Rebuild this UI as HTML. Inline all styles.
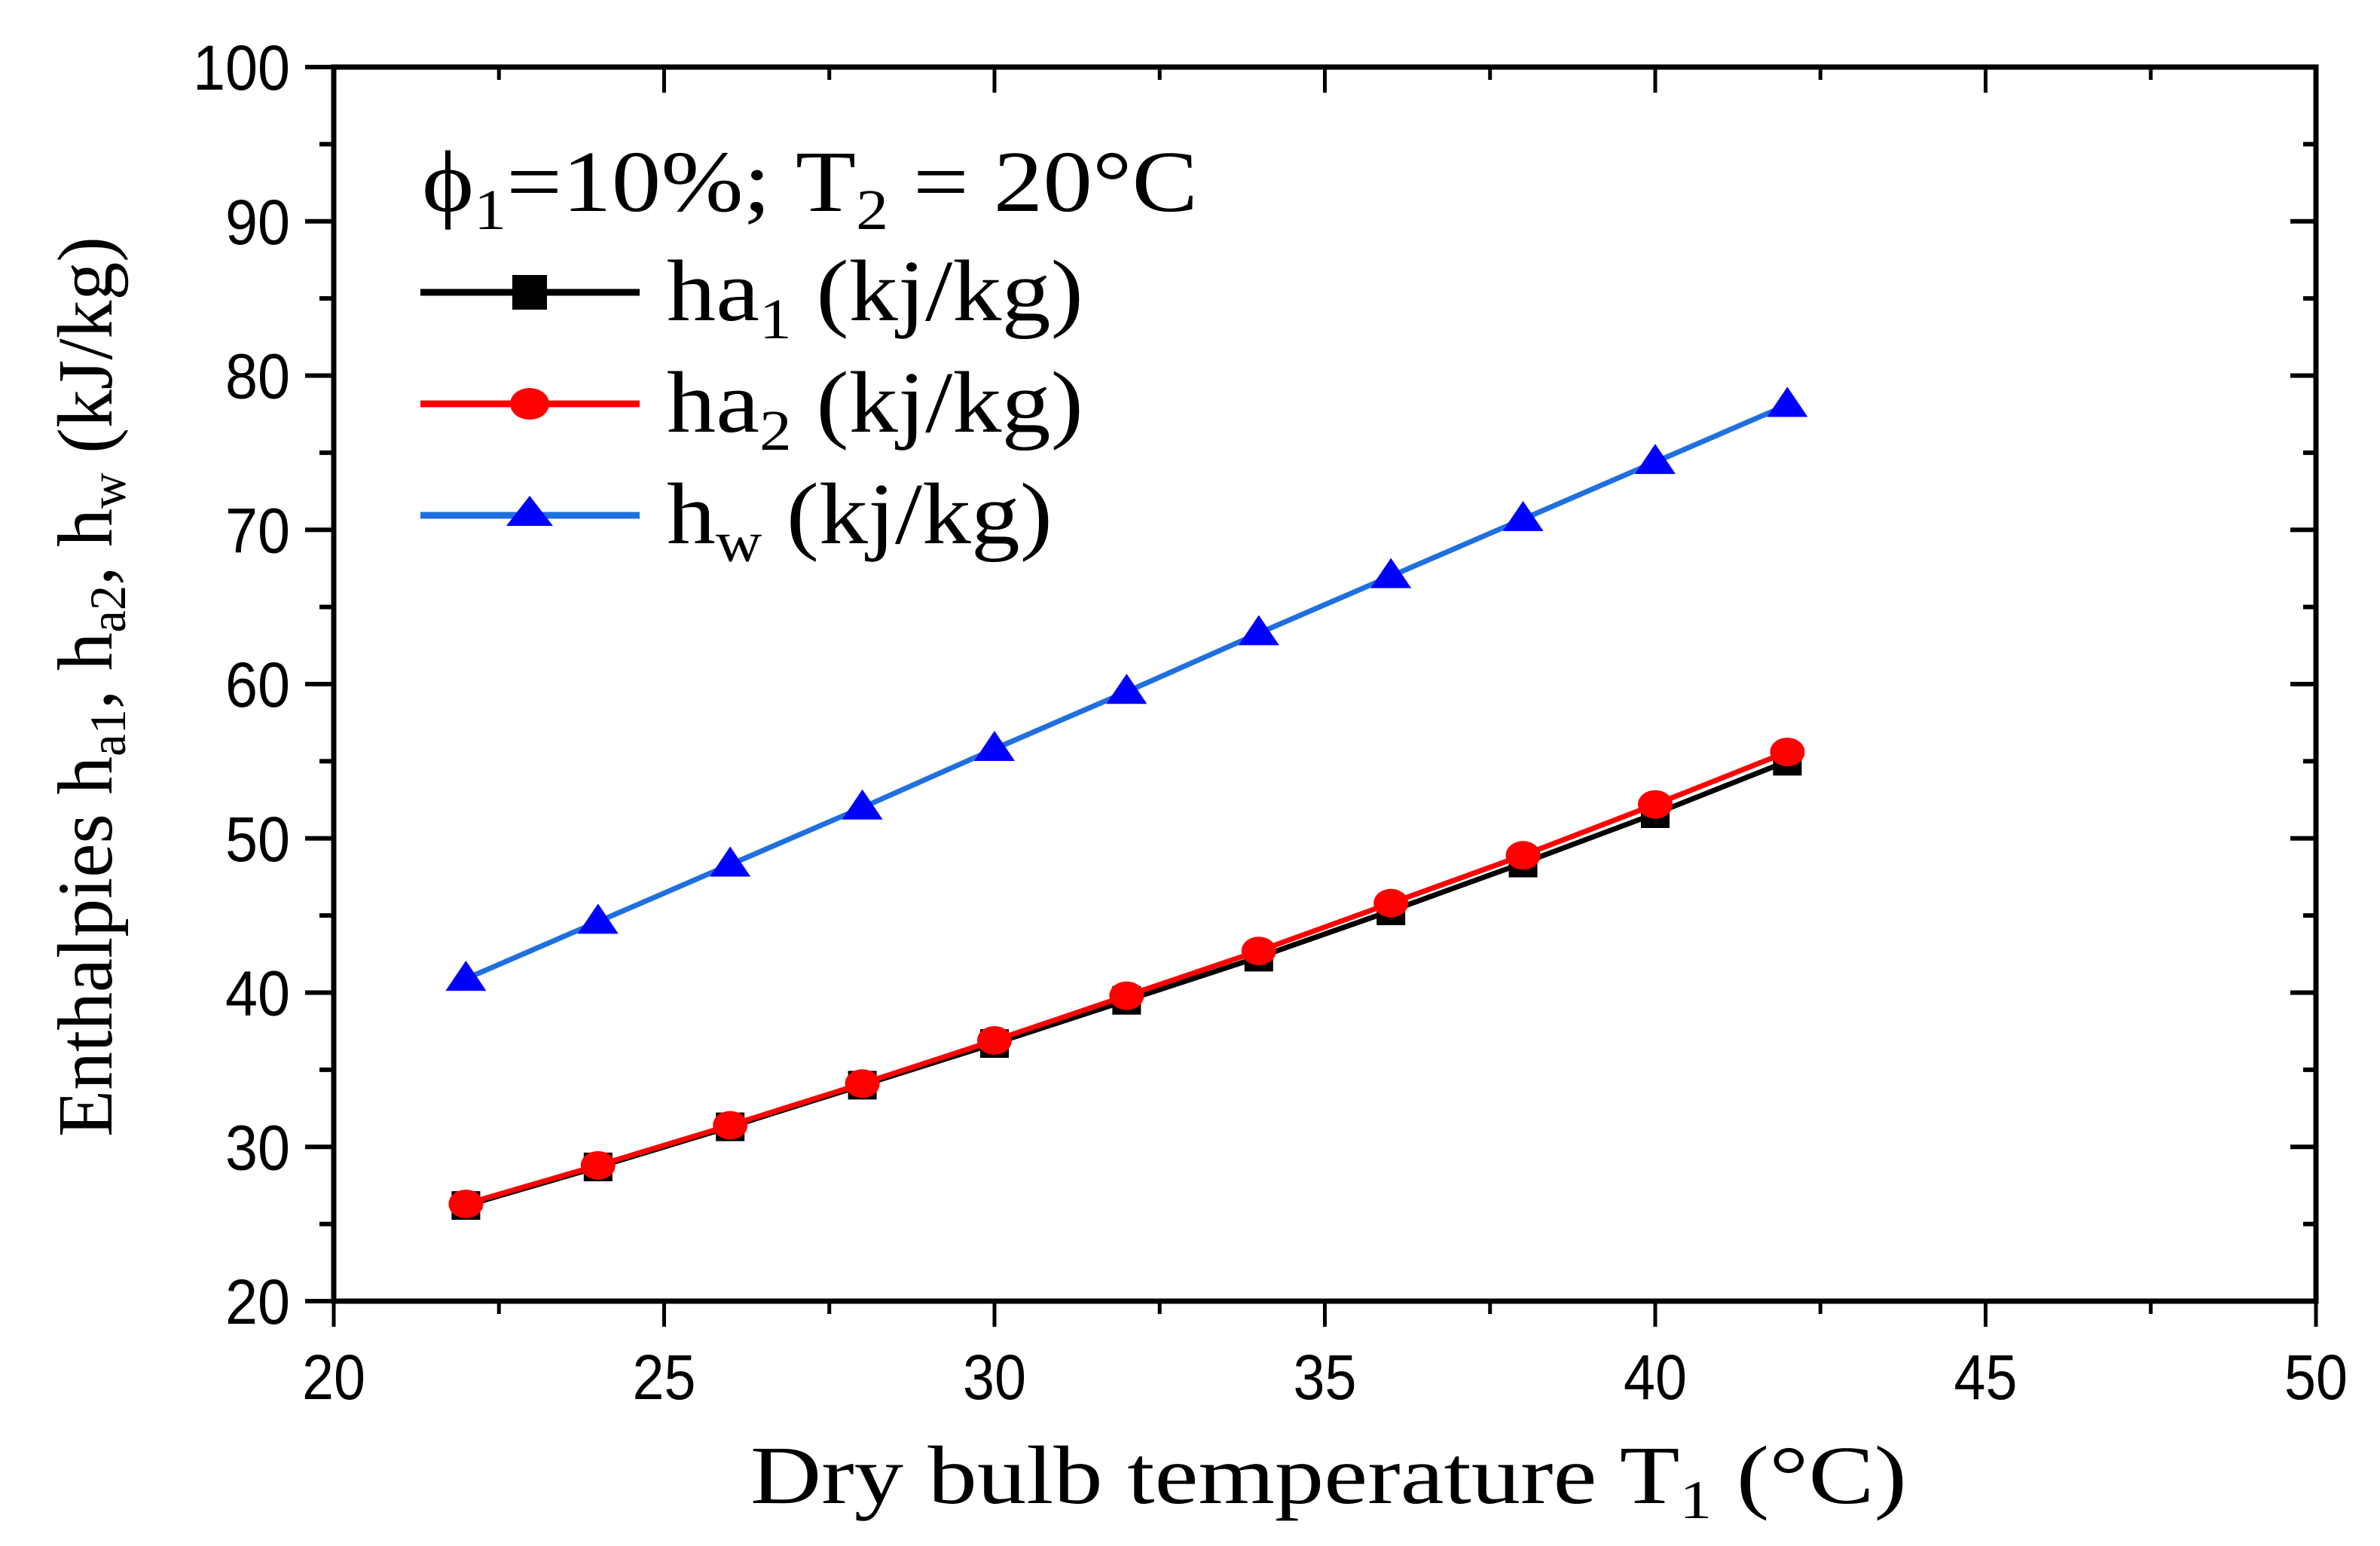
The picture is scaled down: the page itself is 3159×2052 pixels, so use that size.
<!DOCTYPE html>
<html><head><meta charset="utf-8"><style>html,body{margin:0;padding:0;background:#fff}svg{display:block}</style></head>
<body>
<svg id="chart" width="3159" height="2052" viewBox="0 0 3159 2052" xmlns="http://www.w3.org/2000/svg">
<rect width="3159" height="2052" fill="#fff"/>
<g id="marks"></g>
<g id="axes"></g>
<text x="996" y="1995" font-family="Liberation Serif, serif" font-size="110" textLength="1535" lengthAdjust="spacingAndGlyphs">Dry bulb temperature T<tspan font-size="72" dy="20">1</tspan><tspan dy="-20"> (°C)</tspan></text>
<text transform="translate(148,1509) rotate(-90)" font-family="Liberation Serif, serif" font-size="104" textLength="1195" lengthAdjust="spacingAndGlyphs">Enthalpies h<tspan font-size="68" dy="18">a1</tspan><tspan dy="-18">, h</tspan><tspan font-size="68" dy="18">a2</tspan><tspan dy="-18">, h</tspan><tspan font-size="68" dy="18">w</tspan><tspan dy="-18"> (kJ/kg)</tspan></text>
<g>
<text x="560" y="280" font-family="Liberation Serif, serif" font-size="116" textLength="1030" lengthAdjust="spacingAndGlyphs">ϕ<tspan font-size="76" dy="24">1</tspan><tspan dy="-24">=10%; T</tspan><tspan font-size="76" dy="24">2</tspan><tspan dy="-24"> = 20°C</tspan></text>
<g>
<line x1="558" y1="388" x2="849" y2="388" stroke="#000" stroke-width="9"/>
<rect x="680" y="365" width="46" height="46" fill="#000"/>
<text x="885" y="425" font-family="Liberation Serif, serif" font-size="116" textLength="553" lengthAdjust="spacingAndGlyphs">ha<tspan font-size="76" dy="24">1</tspan><tspan dy="-24"> (kj/kg)</tspan></text></g>
<g>
<line x1="558" y1="536" x2="849" y2="536" stroke="#ff0000" stroke-width="9"/>
<ellipse cx="703" cy="536" rx="26" ry="21" fill="#ff0000"/>
<text x="885" y="573" font-family="Liberation Serif, serif" font-size="116" textLength="553" lengthAdjust="spacingAndGlyphs">ha<tspan font-size="76" dy="24">2</tspan><tspan dy="-24"> (kj/kg)</tspan></text></g>
<g>
<line x1="558" y1="684" x2="849" y2="684" stroke="#1f6fe0" stroke-width="9"/>
<polygon points="703,658 734,698 672,698" fill="#0000ff"/>
<text x="885" y="721" font-family="Liberation Serif, serif" font-size="116" textLength="512" lengthAdjust="spacingAndGlyphs">h<tspan font-size="76" dy="24">w</tspan><tspan dy="-24"> (kj/kg)</tspan></text></g>
</g>
</svg>
<script>
const xValues = [22,24,26,28,30,32,34,36,38,40,42];
const ha1 = [26.2,28.7,31.3,34.0,36.7,39.5,42.3,45.3,48.4,51.6,55.0];
const ha2 = [26.3,28.8,31.4,34.1,36.9,39.8,42.7,45.8,48.9,52.2,55.6];
const hw = [40.9,44.6,48.3,52.0,55.8,59.5,63.3,67.0,70.7,74.4,78.1];
const xTicks = [20,25,30,35,40,45,50];
const yTicks = [20,30,40,50,60,70,80,90,100];

const L=443,R=3074,T=89,B=1727;
const NS='http://www.w3.org/2000/svg';
const sx=v=>L+(v-20)/30*(R-L);
const sy=v=>B-(v-20)/80*(B-T);
function mk(tag,attrs,parent){const e=document.createElementNS(NS,tag);for(const k in attrs)e.setAttribute(k,attrs[k]);parent.appendChild(e);return e;}
const marks=document.getElementById('marks'), axes=document.getElementById('axes');

function series(vals,color,lineColor,shape,name){
  const g=mk('g',{},marks);
  
  
  const pl=mk('polyline',{points:xValues.map((x,i)=>sx(x)+','+sy(vals[i])).join(' '),fill:'none',stroke:lineColor,'stroke-width':7},g);
  
  
  xValues.forEach((x,i)=>{
    const cx=sx(x),cy=sy(vals[i]);let m;
    if(shape==='square') m=mk('rect',{x:cx-19,y:cy-19,width:38,height:38,fill:color},g);
    else if(shape==='circle') m=mk('ellipse',{cx:cx,cy:cy,rx:23,ry:19,fill:color},g);
    else m=mk('polygon',{points:`${cx},${cy-24} ${cx+27},${cy+16} ${cx-27},${cy+16}`,fill:color},g);
    
    
  });
}
series(ha1,'#000','#000','square','series-ha1');
series(ha2,'#ff0000','#ff0000','circle','series-ha2');
series(hw,'#0000ff','#1f6fe0','triangle','series-hw');

const fr=mk('rect',{x:L,y:T,width:R-L,height:B-T,fill:'none',stroke:'#000','stroke-width':7},axes);


for(let v=20;v<=50;v+=2.5){
  const x=sx(v),maj=(v%5===0);
  mk('line',{x1:x,y1:B,x2:x,y2:B+(maj?34:17),stroke:'#000','stroke-width':5},axes);
  mk('line',{x1:x,y1:T,x2:x,y2:T+(maj?34:17),stroke:'#000','stroke-width':5},axes);
}
xTicks.forEach(v=>{
  const t=mk('text',{x:sx(v),y:1857,'text-anchor':'middle','font-family':'Liberation Sans, sans-serif','font-size':84,textLength:84,lengthAdjust:'spacingAndGlyphs'},axes);
  t.textContent=v;
  
  
});
for(let v=20;v<=100;v+=5){
  const y=sy(v),maj=(v%10===0);
  mk('line',{x1:L,y1:y,x2:L-(maj?38:19),y2:y,stroke:'#000','stroke-width':6},axes);
  mk('line',{x1:R,y1:y,x2:R-(maj?34:17),y2:y,stroke:'#000','stroke-width':6},axes);
}
yTicks.forEach(v=>{
  const s=String(v);
  const t=mk('text',{x:385,y:sy(v)+30,'text-anchor':'end','font-family':'Liberation Sans, sans-serif','font-size':84,textLength:s.length*43,lengthAdjust:'spacingAndGlyphs'},axes);
  t.textContent=s;
  
  
});
</script>
</body></html>
